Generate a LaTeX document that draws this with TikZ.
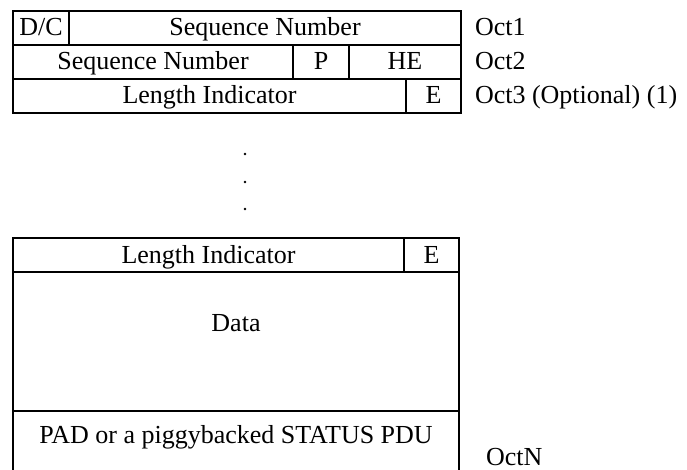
\documentclass[tikz,border=0pt]{standalone}
\usepackage{fontspec}
\setmainfont{Liberation Serif}

\begin{document}
\begin{tikzpicture}[x=1pt,y=-1pt,line width=2pt,
    font=\fontsize{26}{30}\selectfont,
    cell/.style={draw,anchor=north west,inner sep=0pt,outer sep=0pt,
        minimum height=34pt,text height=16pt,text depth=0pt},
    octlabel/.style={anchor=base west,inner sep=0pt}]

    \useasboundingbox (0,0) rectangle (687,470);

    % Header octets
    \node[cell,minimum width=56pt] (dc) at (13,11) {D/C};
    \node[cell,minimum width=392pt] (sn1) at (dc.north east) {Sequence Number};

    \node[cell,minimum width=280pt] (sn2) at (dc.south west) {Sequence Number};
    \node[cell,minimum width=56pt] (p) at (sn2.north east) {P};
    \node[cell,minimum width=112pt] (he) at (p.north east) {HE};

    \node[cell,minimum width=393pt] (li1) at (sn2.south west) {Length Indicator};
    \node[cell,minimum width=55pt] (e1) at (li1.north east) {E};

    % Octet labels
    \node[octlabel] (oct1) at (474,36) {Oct1};
    \node[octlabel] (oct2) at (474,70) {Oct2};
    \node[octlabel] (oct3) at (474,104) {Oct3 (Optional) (1)};

    % Dots
    \foreach \y in {154,182,209}
        \fill (245,\y) circle (1.4);

    % Last length indicator and data
    \node[cell,minimum width=391pt] (li2) at (13,238) {Length Indicator};
    \node[cell,minimum width=55pt] (e2) at (li2.north east) {E};

    \coordinate (padl) at (13,411);
    \coordinate (padr) at (459,411);
    \coordinate (endl) at (13,472);
    \coordinate (endr) at (459,472);

    \draw (li2.south west) -- (endl);
    \draw (e2.south east) -- (endr);
    \draw (padl) -- (padr);

    \node[anchor=base] (data) at (236,331) {Data};
    \node[anchor=base] (pad) at (236,443) {PAD or a piggybacked STATUS PDU};

    \node[octlabel] (octn) at (485,465) {OctN};

\end{tikzpicture}
\end{document}
